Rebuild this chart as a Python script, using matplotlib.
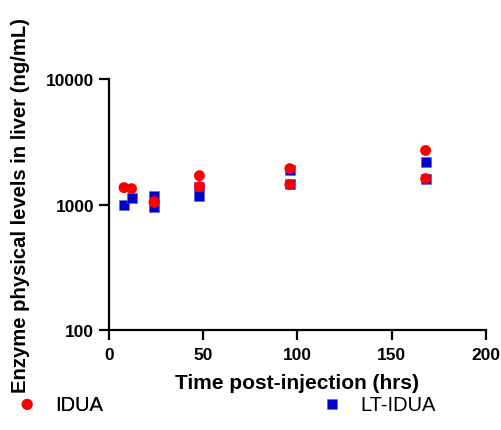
import matplotlib.pyplot as plt
from matplotlib.ticker import FixedLocator, NullLocator, FuncFormatter

plt.rcParams['font.family'] = ['Liberation Sans', 'DejaVu Sans']

# --- data ---
idua_time = [8, 12, 24, 24, 48, 48, 96, 96, 168, 168]
idua_level = [1365, 1340, 1055, 1040, 1700, 1390, 1935, 1445, 2700, 1610]

lt_time = [8, 12, 24, 24, 48, 48, 96, 96, 168, 168]
lt_level = [985, 1135, 1180, 965, 1390, 1180, 1900, 1470, 2200, 1610]

y_ticks = [100, 1000, 10000]
x_ticks = [0, 50, 100, 150, 200]

fig = plt.figure(figsize=(5.02, 4.31), dpi=100)
ax = fig.add_axes([0.217, 0.232, 0.751, 0.582])

sq = ax.scatter(lt_time, lt_level, marker='s', s=52, color='#0000C8',
                edgecolors='#5a5ae6', linewidths=0.4, zorder=3)
ci = ax.scatter(idua_time, idua_level, marker='o', s=62, color='#FF0000',
                edgecolors='none', zorder=4)

ax.set_yscale('log')
ax.set_ylim(100, 10000)
ax.set_xlim(0, 200)
ax.yaxis.set_major_locator(FixedLocator(y_ticks))
ax.yaxis.set_minor_locator(NullLocator())
ax.yaxis.set_major_formatter(FuncFormatter(lambda v, p: f"{int(v)}"))
ax.xaxis.set_major_locator(FixedLocator(x_ticks))

for side in ['top', 'right']:
    ax.spines[side].set_visible(False)
for side in ['left', 'bottom']:
    ax.spines[side].set_linewidth(1.6)
ax.tick_params(axis='both', length=7, width=1.6, labelsize=12.5, direction='out')
ax.tick_params(axis='y', pad=3.5)
ax.tick_params(axis='x', pad=5)
for lbl in ax.get_xticklabels() + ax.get_yticklabels():
    lbl.set_fontweight('bold')

ax.set_xlabel('Time post-injection (hrs)', fontsize=15, fontweight='bold')
ax.set_ylabel('Enzyme physical levels in liver (ng/mL)', fontsize=14.6, fontweight='bold')
ax.xaxis.set_label_coords(0.5, -0.17)
ax.yaxis.set_label_coords(-0.21, 0.5)

leg_kw = dict(loc='center left', frameon=False, fontsize=14.5, handletextpad=0.65,
              handlelength=1.5, borderaxespad=0, markerscale=1.0)
leg1 = fig.legend([ci], ['IDUA'], bbox_to_anchor=(0.008, 0.06), **leg_kw)
fig.add_artist(leg1)
fig.legend([sq], ['LT-IDUA'], bbox_to_anchor=(0.6155, 0.06), **leg_kw)

fig.savefig('out.png', dpi=100)
